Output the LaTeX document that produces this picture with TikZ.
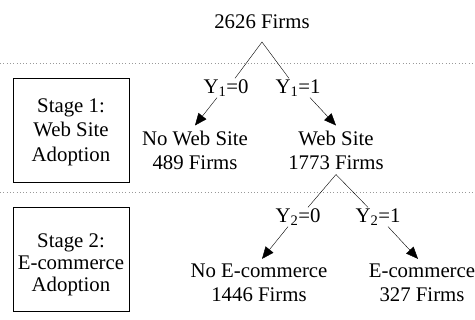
\documentclass[tikz,border=0pt]{standalone}
\usepackage{fontspec}
\setmainfont{Liberation Serif}
\usetikzlibrary{
  arrows.meta,
  positioning,  % Function "of" (e.g. [below=of x])
}
\newcommand{\toppad}[1]{\rule{0pt}{#1}}
\tikzset{
  font=\fontsize{20.8}{24}\selectfont,
  line width=0.7pt,
  >={Triangle[length=12pt,width=10pt]},
  choice/.style={
    inner sep=1pt
  },
  outcome/.style={
    align=center,
    inner xsep=1pt,
    inner ysep=5pt
  },
  stage box/.style={
    draw,
    align=center,
    minimum width=116pt,
    minimum height=104pt,
    inner sep=0pt
  },
  stage sep/.style={
    draw=black!40,
    dash pattern=on 0.7pt off 2.6pt
  }
}

\begin{document}
\begin{tikzpicture}[x=1pt,y=-1pt]
\useasboundingbox (0,0) rectangle (475,320);
% dotted lines between the stages
\coordinate (sep1w) at (0,63);
\coordinate (sep1e) at (475,63);
\coordinate (sep2w) at (0,192);
\coordinate (sep2e) at (475,192);
\draw[stage sep] (sep1w) -- (sep1e);
\draw[stage sep] (sep2w) -- (sep2e);
% stage boxes
\node[stage box,font=\fontsize{20.8}{24.5}\selectfont]
                 (stage1) at (71,130) {\toppad{18pt}Stage 1:\\Web Site\\Adoption};
\node[stage box,font=\fontsize{20.8}{22}\selectfont]
                 (stage2) at (71,259) {\toppad{26pt}Stage 2:\\E-commerce\\Adoption};
% tree
\node             (root) at (262,22)  {2626 Firms};
\coordinate       (split1) at (262,42);
\node[choice]     (y10)  at (226,88)  {Y\textsubscript{1}=0};
\node[choice]     (y11)  at (298,88)  {Y\textsubscript{1}=1};
\node[outcome]    (nows) at (195,150) {No Web Site\\489 Firms};
\node[outcome]    (ws)   at (336,150) {Web Site\\1773 Firms};
\node[choice]     (y20)  at (298,217) {Y\textsubscript{2}=0};
\node[choice]     (y21)  at (378,217) {Y\textsubscript{2}=1};
\node[outcome]    (noec) at (259,283) {No E-commerce\\1446 Firms};
\node[outcome]    (ec)   at (422,283) {E-commerce\\327 Firms};
\draw (split1) -- ([xshift=9pt]y10.north);
\draw (split1) -- ([xshift=-9pt]y11.north);
\draw[->] ([xshift=-9pt]y10.south) -- (nows.north);
\draw[->] ([xshift=12pt]y11.south) -- (ws.north);
\draw (ws.south) -- ([xshift=10pt]y20.north);
\draw (ws.south) -- ([xshift=-10pt]y21.north);
\draw[->] ([xshift=-10pt]y20.south) -- ([xshift=3pt]noec.north);
\draw[->] ([xshift=10pt]y21.south) -- ([xshift=-4pt]ec.north);
\end{tikzpicture}
\end{document}
